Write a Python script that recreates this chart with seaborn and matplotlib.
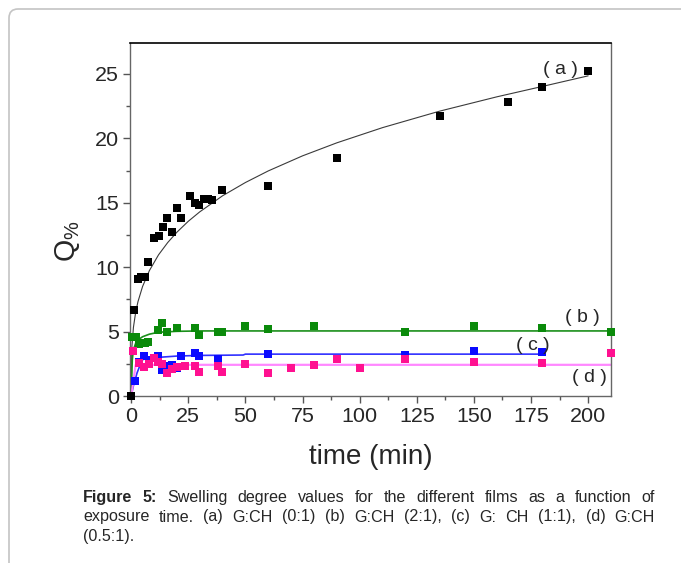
import numpy as np
import pandas as pd
import matplotlib
matplotlib.use("Agg")
import matplotlib.pyplot as plt
import matplotlib.patches as mpatches
from matplotlib import font_manager
from matplotlib.transforms import IdentityTransform
from matplotlib.ticker import MultipleLocator
import seaborn as sns

# ---- measured swelling degree (Q%) vs exposure time (min) ----
t_a = [0, 1.3, 3, 4.5, 6, 7.5, 9.8, 12, 14, 15.7, 18, 20, 21.8, 25.8, 28, 29.8,
       32, 33.7, 35.4, 39.8, 60, 90, 135, 165, 180, 200]
q_a = [0, 6.7, 9.1, 9.2, 9.2, 10.4, 12.3, 12.4, 13.1, 13.8, 12.7, 14.6, 13.8,
       15.5, 15.0, 14.8, 15.3, 15.3, 15.2, 16.0, 16.3, 18.5, 21.7, 22.8, 24.0, 25.2]

t_b = [0.5, 2, 3.6, 4.8, 6, 7.5, 11.8, 13.7, 15.9, 20, 28, 29.8, 37.8, 39.8,
       50, 60, 80, 120, 150, 180, 210]
q_b = [4.6, 4.6, 4.0, 4.1, 4.1, 4.2, 5.1, 5.7, 5.0, 5.3, 5.3, 4.7, 5.0, 5.0,
       5.4, 5.2, 5.4, 5.0, 5.4, 5.3, 5.0]

t_c = [1.8, 3.5, 5.8, 7.9, 11.8, 13.7, 15.7, 18, 20, 21.8, 28, 29.8, 37.8,
       60, 120, 150, 180]
q_c = [1.15, 2.65, 3.1, 2.8, 3.1, 2.0, 2.3, 2.4, 2.2, 3.1, 3.3, 3.1, 2.9,
       3.25, 3.2, 3.5, 3.4]

t_d = [1, 3.6, 5.8, 7.9, 9.8, 11.8, 13.7, 15.7, 18, 20, 23.6, 28, 29.8, 37.8,
       39.8, 50, 60, 70, 80, 90, 100, 120, 150, 180, 210]
q_d = [3.5, 2.55, 2.25, 2.5, 2.95, 2.65, 2.5, 1.8, 2.1, 2.25, 2.3, 2.3, 1.9,
       2.3, 1.9, 2.5, 1.8, 2.2, 2.4, 2.85, 2.2, 2.85, 2.65, 2.6, 3.35]

# ---- kinetic fit curves ----
fit_t_a = [0, 0.3, 1, 2, 3, 5, 8, 12, 16, 20, 25, 30, 40, 50, 60, 75, 90,
           110, 135, 160, 180, 200]
fit_q_a = [0, 3.76, 5.33, 6.52, 7.33, 8.50, 9.74, 10.96, 11.91, 12.71, 13.56,
           14.29, 15.54, 16.57, 17.47, 18.64, 19.65, 20.83, 22.11, 23.22,
           24.03, 24.85]

fit_t_b = [0, 0.5, 1, 2, 3, 5, 8, 12, 20, 30, 210]
fit_q_b = [0, 2.8, 3.6, 4.1, 4.35, 4.6, 4.8, 4.95, 5.02, 5.05, 5.05]

fit_t_c = [0, 1, 2.6, 4.8, 7, 12, 20, 30, 49, 50, 180]
fit_q_c = [0, 0.8, 1.8, 2.8, 2.95, 3.0, 3.1, 3.15, 3.18, 3.25, 3.25]

fit_t_d = [0, 1, 2, 210]
fit_q_d = [0, 1.2, 2.42, 2.42]

x_ticks = [0, 25, 50, 75, 100, 125, 150, 175, 200]
y_ticks = [0, 5, 10, 15, 20, 25]

series = [
    ("a", t_a, q_a, fit_t_a, fit_q_a, "#000000", "#3a3a3a", 0.8),
    ("b", t_b, q_b, fit_t_b, fit_q_b, "#0a8a0a", "#1b8f1b", 1.2),
    ("c", t_c, q_c, fit_t_c, fit_q_c, "#0a0aff", "#3030ff", 1.2),
    ("d", t_d, q_d, fit_t_d, fit_q_d, "#ff1090", "#ff88ff", 1.6),
]

sns.set_style("ticks")

# prefer a narrow sans for the axis text when one is available
installed = {f.name for f in font_manager.fontManager.ttflist}
axis_font, scale = "Liberation Sans", 0.86
for cand in ["Liberation Sans Narrow", "Noto Sans Condensed"]:
    if cand in installed:
        axis_font, scale = cand, 1.0
        break
plt.rcParams["font.family"] = [axis_font, "DejaVu Sans"]
plt.rcParams["mathtext.default"] = "regular"

W, H = 681, 563
fig = plt.figure(figsize=(W / 100, H / 100), dpi=100)
fig.patch.set_facecolor("white")


def fx(x):
    return x / W


def fy(y):
    return 1 - y / H


ax = fig.add_axes([fx(130), fy(396), fx(611) - fx(130), fy(43) - fy(396)])

for name, t, q, ft, fq, mcol, lcol, lw in series:
    sns.lineplot(x=ft, y=fq, ax=ax, color=lcol, lw=lw, estimator=None,
                 sort=False, zorder=2)
    sns.scatterplot(x=t, y=q, ax=ax, color=mcol, marker="s", s=26,
                    linewidth=0, zorder=3, clip_on=False)

ax.set_xlim(-0.5, 210)
ax.set_ylim(0, 27.4)
ax.set_xticks(x_ticks)
ax.set_yticks(y_ticks)
ax.xaxis.set_minor_locator(MultipleLocator(12.5))
ax.yaxis.set_minor_locator(MultipleLocator(2.5))
ax.tick_params(which="major", direction="out", length=5, width=1,
               color="#555555", labelsize=18 * scale, pad=3)
ax.tick_params(which="minor", direction="out", length=3, width=1,
               color="#555555")
ax.tick_params(top=False, right=False)
for side in ["left", "right", "bottom"]:
    ax.spines[side].set_color("#666666")
    ax.spines[side].set_linewidth(1)
ax.spines["top"].set_color("#000000")
ax.spines["top"].set_linewidth(1.2)

ax.set_xlabel("time (min)", fontsize=24 * scale * 0.97, labelpad=13)
ax.set_ylabel(r"Q$_{\%}$", fontsize=24 * scale)
ax.yaxis.set_label_coords(-0.10, 0.44)

# series tags
tag_pos = {"a": (560, 69), "b": (582, 317), "c": (533, 346), "d": (589, 378)}
for name, (px, py) in tag_pos.items():
    fig.text(fx(px), fy(py), f"( {name} )", fontsize=14, ha="center",
             va="center", family=["Liberation Sans", "DejaVu Sans"])

# figure caption, justified between two margins
cap_font = ["Liberation Sans", "DejaVu Sans"]
cap_size = 11.6
left_px, right_px = 83, 655
lines = [
    ([("Figure", "bold"), ("5:", "bold"), ("Swelling", "normal"),
      ("degree", "normal"), ("values", "normal"), ("for", "normal"),
      ("the", "normal"), ("different", "normal"), ("films", "normal"),
      ("as", "normal"), ("a", "normal"), ("function", "normal"),
      ("of", "normal")], 502, True),
    ([(w, "normal") for w in
      "exposure time. (a) G:CH (0:1) (b) G:CH (2:1), (c) G: CH (1:1), (d) G:CH".split()],
     521.5, True),
    ([("(0.5:1).", "normal")], 541, False),
]
renderer = fig.canvas.get_renderer()
for words, base, justify in lines:
    texts = [fig.text(0, fy(base), w, fontsize=cap_size, weight=wt,
                      family=cap_font, ha="left", va="baseline")
             for w, wt in words]
    widths = [tx.get_window_extent(renderer).width for tx in texts]
    if justify and len(texts) > 1:
        gap = (right_px - left_px - sum(widths)) / (len(texts) - 1)
    else:
        gap = 4
    x = left_px
    for tx, w in zip(texts, widths):
        tx.set_x(fx(x))
        x += w + gap

# page frame with rounded corner
frame = mpatches.FancyBboxPatch((9, -40), 900, (H - 9) + 40,
                                boxstyle="round,pad=0,rounding_size=9",
                                transform=IdentityTransform(), fill=False,
                                ec="#c4c4c4", lw=1.2, clip_on=False)
fig.add_artist(frame)

fig.savefig("out.png", dpi=100)
